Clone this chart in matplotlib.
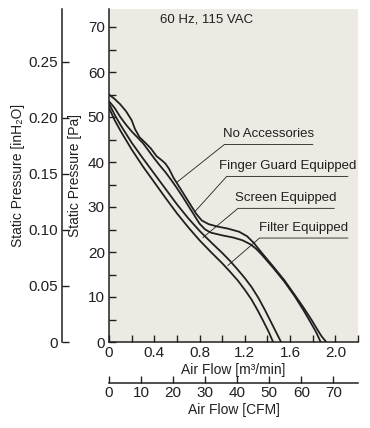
import numpy as np
import matplotlib
matplotlib.use('Agg')
import matplotlib.pyplot as plt

plt.rcParams['font.family'] = ['Liberation Sans', 'DejaVu Sans']

INK = '#231F20'
BG = '#EDEAE3'

# P-Q curves, air flow in m3/min, static pressure in Pa
no_acc_q = [0, 0.05, 0.1, 0.15, 0.2, 0.23, 0.27, 0.32, 0.37, 0.42, 0.47, 0.5, 0.53, 0.57,
            0.62, 0.67, 0.72, 0.77, 0.82, 0.88, 0.95, 1.05, 1.15, 1.22, 1.28, 1.35, 1.45,
            1.55, 1.64, 1.72, 1.79, 1.84, 1.88, 1.92]
no_acc_p = [55, 54, 52.8, 51.3, 49.3, 47.3, 45.5, 44.3, 43, 41.3, 40.3, 39.6, 38.5, 36.5,
            34.5, 32.5, 30.5, 28.5, 27.0, 26.2, 25.7, 25.2, 24.5, 23.5, 22, 19.8, 16.8,
            13.7, 10.5, 7.6, 4.9, 2.8, 1.2, 0]

finger_q = [0, 0.05, 0.1, 0.15, 0.2, 0.25, 0.3, 0.35, 0.4, 0.45, 0.5, 0.55, 0.6, 0.65,
            0.7, 0.75, 0.8, 0.85, 0.9, 1.0, 1.1, 1.18, 1.25, 1.3, 1.35, 1.45, 1.55, 1.64,
            1.72, 1.78, 1.83, 1.87]
finger_p = [53.5, 52, 50, 48.3, 46.8, 45.5, 44.2, 42.5, 40.8, 39.2, 37.7, 36, 34.2, 32.3,
            30.3, 28.3, 26.3, 25, 24.3, 23.7, 23.2, 22.6, 21.7, 20.7, 19.4, 16.5, 13.4, 10.2,
            7, 4.4, 2.2, 0]

screen_q = [0, 0.05, 0.1, 0.2, 0.3, 0.4, 0.5, 0.6, 0.7, 0.8, 0.9, 1.0, 1.07, 1.14, 1.2,
            1.26, 1.32, 1.38, 1.43, 1.48, 1.52]
screen_p = [53, 50.5, 48.3, 44.3, 40.8, 37.4, 34, 30.6, 27.5, 24.7, 22.2, 19.8, 18, 16, 14.2,
            12.2, 9.8, 7, 4.5, 2, 0]

filter_q = [0, 0.05, 0.1, 0.2, 0.3, 0.4, 0.5, 0.6, 0.7, 0.8, 0.9, 1.0, 1.07, 1.14, 1.2,
            1.26, 1.31, 1.36, 1.41, 1.45]
filter_p = [52, 49.3, 47, 42.8, 39, 35.5, 32, 28.6, 25.5, 22.6, 20, 17.5, 15.6, 13.6, 11.6,
            9.4, 7.2, 4.8, 2.3, 0]

curves = [(no_acc_q, no_acc_p), (finger_q, finger_p), (screen_q, screen_p), (filter_q, filter_p)]

# labels: text, point on curve (q, Pa), underline start (q, Pa), underline end q
labels = ['No Accessories', 'Finger Guard Equipped', 'Screen Equipped', 'Filter Equipped']
label_tip = [(0.60, 35.5), (0.76, 29.0), (0.83, 23.2), (1.05, 17.0)]
label_start = [(1.02, 43.9), (1.04, 36.8), (1.14, 29.7), (1.33, 23.1)]
label_end = [1.80, 2.11, 1.99, 2.11]

PA_PER_INH2O = 249.09
CFM_PER_M3MIN = 35.315

fig = plt.figure(figsize=(3.70, 4.28), dpi=100)
ax = fig.add_axes([109/370, 1 - 342/428, 249/370, 333/428])
ax.set_facecolor(BG)

for q, p in curves:
    ax.plot(q, p, color=INK, lw=1.3, solid_joinstyle='round', solid_capstyle='round')

for txt, tip, st, xe in zip(labels, label_tip, label_start, label_end):
    ax.plot([tip[0], st[0], xe], [tip[1], st[1], st[1]], color=INK, lw=0.6)
    ax.text((st[0] + xe) / 2, st[1] + 0.9, txt, ha='center', va='bottom',
            fontsize=9.5, color=INK)

ax.text(0.86, 71.6, '60 Hz, 115 VAC', ha='center', va='center', fontsize=9.5, color=INK)

ax.set_xlim(0, 2.2)
ax.set_ylim(0, 74)
for s in ['top', 'right']:
    ax.spines[s].set_visible(False)
for s in ['left', 'bottom']:
    ax.spines[s].set_color(INK)
    ax.spines[s].set_linewidth(1.1)

ax.set_xticks(np.arange(0, 2.01, 0.4))
ax.set_xticklabels(['0', '0.4', '0.8', '1.2', '1.6', '2.0'])
ax.set_xticks(np.arange(0, 2.21, 0.2), minor=True)
ax.set_yticks(np.arange(0, 71, 10))
ax.set_yticks(np.arange(0, 74, 5), minor=True)
ax.tick_params(which='both', direction='in', colors=INK, labelsize=11, length=5, width=1, pad=3)
ax.tick_params(which='minor', length=5)
ax.set_xlabel('Air Flow [m³/min]', fontsize=10, color=INK, labelpad=2)
ax.set_ylabel('Static Pressure [Pa]', fontsize=10, color=INK, labelpad=4)

# inH2O axis on the left
ax_in = ax.secondary_yaxis(-47/249, functions=(lambda p: p / PA_PER_INH2O, lambda h: h * PA_PER_INH2O))
ax_in.set_yticks([0, 0.05, 0.10, 0.15, 0.20, 0.25])
ax_in.set_yticklabels(['0', '0.05', '0.10', '0.15', '0.20', '0.25'])
ax_in.tick_params(direction='in', colors=INK, labelsize=11, length=5, width=1, pad=3)
ax_in.spines['left'].set_color(INK)
ax_in.spines['left'].set_linewidth(1.1)
ax_in.set_ylabel('Static Pressure [inH₂O]', fontsize=10, color=INK, labelpad=2)

# CFM axis below
ax_cfm = ax.secondary_xaxis(-41/333, functions=(lambda q: q * CFM_PER_M3MIN, lambda c: c / CFM_PER_M3MIN))
ax_cfm.set_xticks(np.arange(0, 71, 10))
ax_cfm.tick_params(direction='in', colors=INK, labelsize=11, length=5, width=1, pad=2)
ax_cfm.spines['bottom'].set_color(INK)
ax_cfm.spines['bottom'].set_linewidth(1.1)
ax_cfm.set_xlabel('Air Flow [CFM]', fontsize=10, color=INK, labelpad=2)

fig.savefig('out.png', dpi=100)
